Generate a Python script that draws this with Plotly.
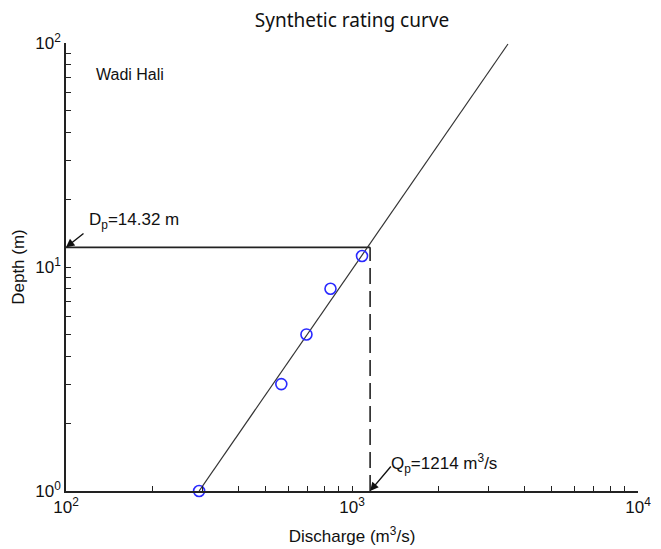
import plotly.graph_objects as go
import numpy as np

# Observed points
obs_discharge = [292, 566, 693, 841, 1084]
obs_depth = [1.0, 3.0, 5.0, 8.0, 11.2]

# Synthetic rating curve (end points of straight line in log-log)
curve_discharge = [292, 3510]
curve_depth = [1.0, 99.0]

# Peak lines (as drawn)
peak_q_drawn = 1157
peak_d_drawn = 12.24
peak_label_q = "Q<sub>p</sub>=1214 m<sup>3</sup>/s"
peak_label_d = "D<sub>p</sub>=14.32 m"

x_range = [100, 10000]
y_range = [1, 100]

x_tickvals = [100, 1000, 10000]
x_ticktext = ["10<sup>2</sup>", "10<sup>3</sup>", "10<sup>4</sup>"]
x_minorvals = [m * 10 ** e for e in (2, 3) for m in range(2, 10)]
y_tickvals = [1, 10, 100]
y_ticktext = ["10<sup>0</sup>", "10<sup>1</sup>", "10<sup>2</sup>"]
y_minorvals = [m * 10 ** e for e in (0, 1) for m in range(2, 10)]

FONT = "Liberation Sans, Arial, sans-serif"
INK = "#111111"

fig = go.Figure()

# horizontal peak depth line
fig.add_trace(go.Scatter(x=[x_range[0], peak_q_drawn], y=[peak_d_drawn, peak_d_drawn],
                         mode="lines", line=dict(color="#222222", width=1.6),
                         showlegend=False, hoverinfo="skip"))
# vertical dashed peak discharge line
fig.add_trace(go.Scatter(x=[peak_q_drawn, peak_q_drawn], y=[y_range[0], peak_d_drawn],
                         mode="lines", line=dict(color="#222222", width=1.6, dash="16px,7px"),
                         showlegend=False, hoverinfo="skip"))
# rating curve
fig.add_trace(go.Scatter(x=curve_discharge, y=curve_depth, mode="lines",
                         line=dict(color="#333333", width=1.2),
                         showlegend=False, hoverinfo="skip"))
# observations
fig.add_trace(go.Scatter(x=obs_discharge, y=obs_depth, mode="markers",
                         marker=dict(symbol="circle-open", size=11,
                                     line=dict(color="#2a2aff", width=1.6), color="#2a2aff"),
                         showlegend=False, cliponaxis=False))

axis_common = dict(type="log", ticks="inside", ticklen=5, tickcolor="#222222", tickwidth=1,
                   showline=True, linecolor="#222222", linewidth=1.6, mirror=False,
                   showgrid=False, zeroline=False, automargin=False,
                   tickfont=dict(family=FONT, size=17, color=INK))

fig.update_xaxes(range=[np.log10(x_range[0]), np.log10(x_range[1])],
                 tickvals=x_tickvals, ticktext=x_ticktext,
                 minor=dict(tickvals=x_minorvals, ticks="inside", ticklen=5,
                            tickcolor="#222222", tickwidth=1, showgrid=False),
                 title=dict(text="Discharge (m<sup>3</sup>/s)",
                            font=dict(family=FONT, size=17, color=INK), standoff=14),
                 **axis_common)
fig.update_yaxes(range=[np.log10(y_range[0]), np.log10(y_range[1])],
                 tickvals=y_tickvals, ticktext=y_ticktext,
                 minor=dict(tickvals=y_minorvals, ticks="inside", ticklen=5,
                            tickcolor="#222222", tickwidth=1, showgrid=False),
                 title=dict(text="Depth (m)", font=dict(family=FONT, size=17, color=INK),
                            standoff=6),
                 **axis_common)

annotations = [
    dict(x=np.log10(x_range[0]), y=np.log10(peak_d_drawn), xref="x", yref="y",
         text="", showarrow=True, arrowhead=2, arrowsize=1.2, arrowwidth=1.4,
         arrowcolor=INK, ax=19, ay=-15),
    dict(x=np.log10(peak_q_drawn), y=0, xref="x", yref="y",
         text="", showarrow=True, arrowhead=2, arrowsize=1.2, arrowwidth=1.4,
         arrowcolor=INK, ax=22, ay=-26),
    dict(x=87, y=221, xref="paper", yref="paper", text=peak_label_d, showarrow=False,
         xanchor="left", yanchor="middle", font=dict(family=FONT, size=17, color=INK)),
    dict(x=389, y=463, xref="paper", yref="paper", text=peak_label_q, showarrow=False,
         xanchor="left", yanchor="middle", font=dict(family=FONT, size=17, color=INK)),
    dict(x=94, y=74, xref="paper", yref="paper", text="Wadi Hali", showarrow=False,
         xanchor="left", yanchor="middle", font=dict(family=FONT, size=16, color=INK)),
]

# convert pixel positions for paper-ref annotations
L, R, T, B = 66, 23, 43, 58
W, H = 661, 549
pw, ph = W - L - R, H - T - B
for a in annotations:
    if a["xref"] == "paper":
        a["x"] = (a["x"] - L) / pw
        a["y"] = 1 - (a["y"] - T) / ph

fig.update_layout(
    width=W, height=H,
    margin=dict(l=L, r=R, t=T, b=B, autoexpand=False),
    paper_bgcolor="white", plot_bgcolor="white",
    title=dict(text="Synthetic rating curve", x=352 / W, xanchor="center",
               y=1 - 20 / H, yanchor="middle",
               font=dict(family="Noto Sans, sans-serif", size=19, color=INK)),
    annotations=annotations,
)

fig.write_html("out.html")
